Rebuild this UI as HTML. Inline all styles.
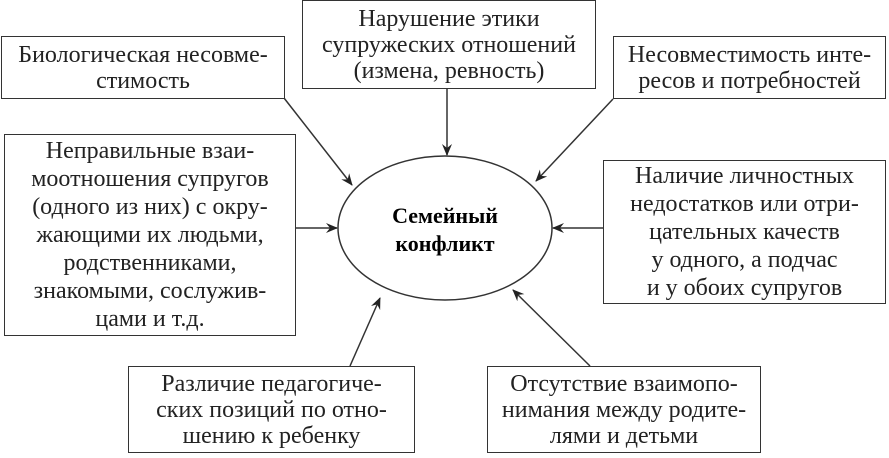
<!DOCTYPE html>
<html><head><meta charset="utf-8"><style>
body{margin:0;background:#fff;width:889px;height:458px;position:relative;overflow:hidden;font-family:"Liberation Serif","Noto Serif CJK SC","DejaVu Serif",serif;color:#222}
.b{position:absolute;border:1.5px solid #333;box-sizing:border-box;display:flex;align-items:center;justify-content:center;text-align:center;font-size:24px;line-height:26px;background:#fff;white-space:nowrap}
svg{position:absolute;left:0;top:0}
</style></head><body>
<svg width="889" height="458">
<defs><marker id="a" markerWidth="12" markerHeight="10" refX="11" refY="5" orient="auto" markerUnits="userSpaceOnUse"><path d="M0,0 L12,5 L0,10 L4,5 Z" fill="#222"/></marker></defs>
<ellipse cx="445" cy="228" rx="107" ry="72" fill="none" stroke="#333" stroke-width="1.5"/>
<g stroke="#333" stroke-width="1.5" marker-end="url(#a)">
<line x1="284" y1="98" x2="352" y2="185"/>
<line x1="447" y1="89" x2="447" y2="155"/>
<line x1="613" y1="99" x2="536" y2="181"/>
<line x1="295" y1="228" x2="337" y2="228"/>
<line x1="603" y1="228" x2="553" y2="228"/>
<line x1="350" y1="366" x2="380" y2="298"/>
<line x1="590" y1="366" x2="513" y2="290"/>
</g>
<text x="445" y="223" text-anchor="middle" font-family="Liberation Serif,Noto Serif CJK SC,serif" font-weight="bold" font-size="22">Семейный</text>
<text x="445" y="251" text-anchor="middle" font-family="Liberation Serif,Noto Serif CJK SC,serif" font-weight="bold" font-size="22">конфликт</text>
</svg>
<div class="b" style="left:302px;top:0;width:294px;height:89px">Нарушение этики<br>супружеских отношений<br>(измена, ревность)</div>
<div class="b" style="left:1px;top:36px;width:284px;height:63px">Биологическая несовме-<br>стимость</div>
<div class="b" style="left:613px;top:36px;width:273px;height:63px">Несовместимость инте-<br>ресов и потребностей</div>
<div class="b" style="left:4px;top:134px;width:292px;height:202px;line-height:28px">Неправильные взаи-<br>моотношения супругов<br>(одного из них) с окру-<br>жающими их людьми,<br>родственниками,<br>знакомыми, сослужив-<br>цами и т.д.</div>
<div class="b" style="left:603px;top:160px;width:283px;height:144px;line-height:28px">Наличие личностных<br>недостатков или отри-<br>цательных качеств<br>у одного, а подчас<br>и у обоих супругов</div>
<div class="b" style="left:128px;top:366px;width:287px;height:87px">Различие педагогиче-<br>ских позиций по отно-<br>шению к ребенку</div>
<div class="b" style="left:487px;top:366px;width:274px;height:87px">Отсутствие взаимопо-<br>нимания между родите-<br>лями и детьми</div>
</body></html>
